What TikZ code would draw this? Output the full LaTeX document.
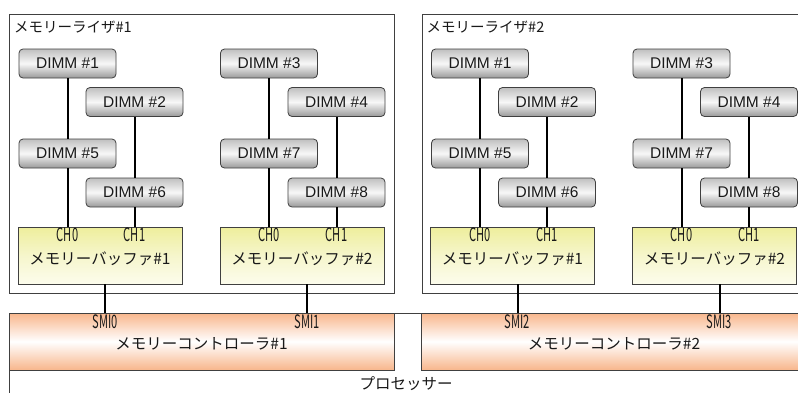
\documentclass[tikz,border=0pt]{standalone}
\usepackage{fontspec}
\setmainfont{Noto Sans CJK JP}
\newfontfamily\latinfont{Liberation Sans}
\usepackage{graphicx}
\definecolor{bufTop}{HTML}{EEEE9C}
\definecolor{bufMid}{HTML}{F6F6CC}
\definecolor{bufBot}{HTML}{FCFCEC}
\definecolor{ctlOr}{HTML}{F8B68C}
\definecolor{edge}{HTML}{404040}
\newcommand\jpfont{\fontsize{15.5}{18}\selectfont}
\newcommand\narrowlab[1]{\scalebox{0.6}[1]{#1}}
\begin{document}
\begin{tikzpicture}[x=1pt,y=-1pt,
  riserbox/.style={draw=edge, line width=0.9pt, fill=white, anchor=north west, inner sep=0pt},
  dimm/.style={draw=edge, line width=0.8pt, rounded corners=4pt, minimum width=97pt, minimum height=29pt,
     inner sep=0pt, top color=black!25, bottom color=black!40, middle color=black!3,
     font=\latinfont\fontsize{15.5}{15}\selectfont, text=black!90},
  bufbox/.style={draw=edge, line width=0.9pt, minimum width=164pt, minimum height=57pt, inner sep=0pt,
     top color=bufTop, bottom color=bufBot, middle color=bufMid},
  ctlbox/.style={draw=edge, line width=0.9pt, minimum width=385pt, minimum height=57pt, inner sep=0pt,
     top color=ctlOr, bottom color=ctlOr, middle color=white},
  jptext/.style={font=\jpfont, inner sep=0pt, text=black!90},
  chlab/.style={font=\fontsize{18.5}{18}\selectfont, inner sep=0pt, text=black!90},
  wire/.style={line width=2pt, black}]
\useasboundingbox (0,0) rectangle (798,392);
\clip (0,0) rectangle (798,392);
% processor
\node[draw=edge, line width=0.9pt, anchor=north west, minimum width=830pt, minimum height=100pt, inner sep=0pt] (P) at (9,313) {};
\node[jptext] (PL) at (406,384) {プロセッサー};
\foreach \r/\ox in {1/0,2/412.5}{
\pgfmathtruncatemacro\sa{2*\r-2}
\pgfmathtruncatemacro\sb{2*\r-1}
\begin{scope}[shift={(\ox,0)}, name prefix=g\r-]
  \node[riserbox, minimum width=385pt, minimum height=279pt] (R) at (9,14) {};
  \node[jptext, font=\fontsize{14.5}{16}\selectfont, anchor=west] (RL) at (14,27.5) {メモリーライザ\#\r};
  \node[dimm] (d1) at (67.5,63.5) {DIMM \#1};
  \node[dimm] (d2) at (134.5,102) {DIMM \#2};
  \node[dimm] (d5) at (67.5,153.5) {DIMM \#5};
  \node[dimm] (d6) at (134.5,192.5) {DIMM \#6};
  \node[dimm] (d3) at (269,63.5) {DIMM \#3};
  \node[dimm] (d4) at (336.5,102) {DIMM \#4};
  \node[dimm] (d7) at (269,153.5) {DIMM \#7};
  \node[dimm] (d8) at (336.5,192.5) {DIMM \#8};
  \node[bufbox] (b1) at (100,255.5) {};
  \node[bufbox] (b2) at (302,255.5) {};
  \node[chlab] (b1c0) at (67.5,235) {\narrowlab{CH0}};
  \node[chlab] (b1c1) at (134.5,235) {\narrowlab{CH1}};
  \node[chlab] (b2c0) at (269,235) {\narrowlab{CH0}};
  \node[chlab] (b2c1) at (336.5,235) {\narrowlab{CH1}};
  \node[jptext] (b1t) at (100,258.5) {メモリーバッファ\#1};
  \node[jptext] (b2t) at (302,258.5) {メモリーバッファ\#2};
  \draw[wire] (d1.south) -- (d5.north);
  \draw[wire] (d5.south) -- (d5.south |- b1.north);
  \draw[wire] (d2.south) -- (d6.north);
  \draw[wire] (d6.south) -- (d6.south |- b1.north);
  \draw[wire] (d3.south) -- (d7.north);
  \draw[wire] (d7.south) -- (d7.south |- b2.north);
  \draw[wire] (d4.south) -- (d8.north);
  \draw[wire] (d8.south) -- (d8.south |- b2.north);
  \node[ctlbox] (C) at (201.5,341.5) {};
  \node[chlab] (s0) at (105,322) {\narrowlab{SMI\sa}};
  \node[chlab] (s1) at (307,322) {\narrowlab{SMI\sb}};
  \node[jptext] (Ct) at (201.5,344) {メモリーコントローラ\#\r};
  \draw[wire] (b1.south -| s0) -- (s0 |- C.north);
  \draw[wire] (b2.south -| s1) -- (s1 |- C.north);
\end{scope}
}
\end{tikzpicture}
\end{document}
